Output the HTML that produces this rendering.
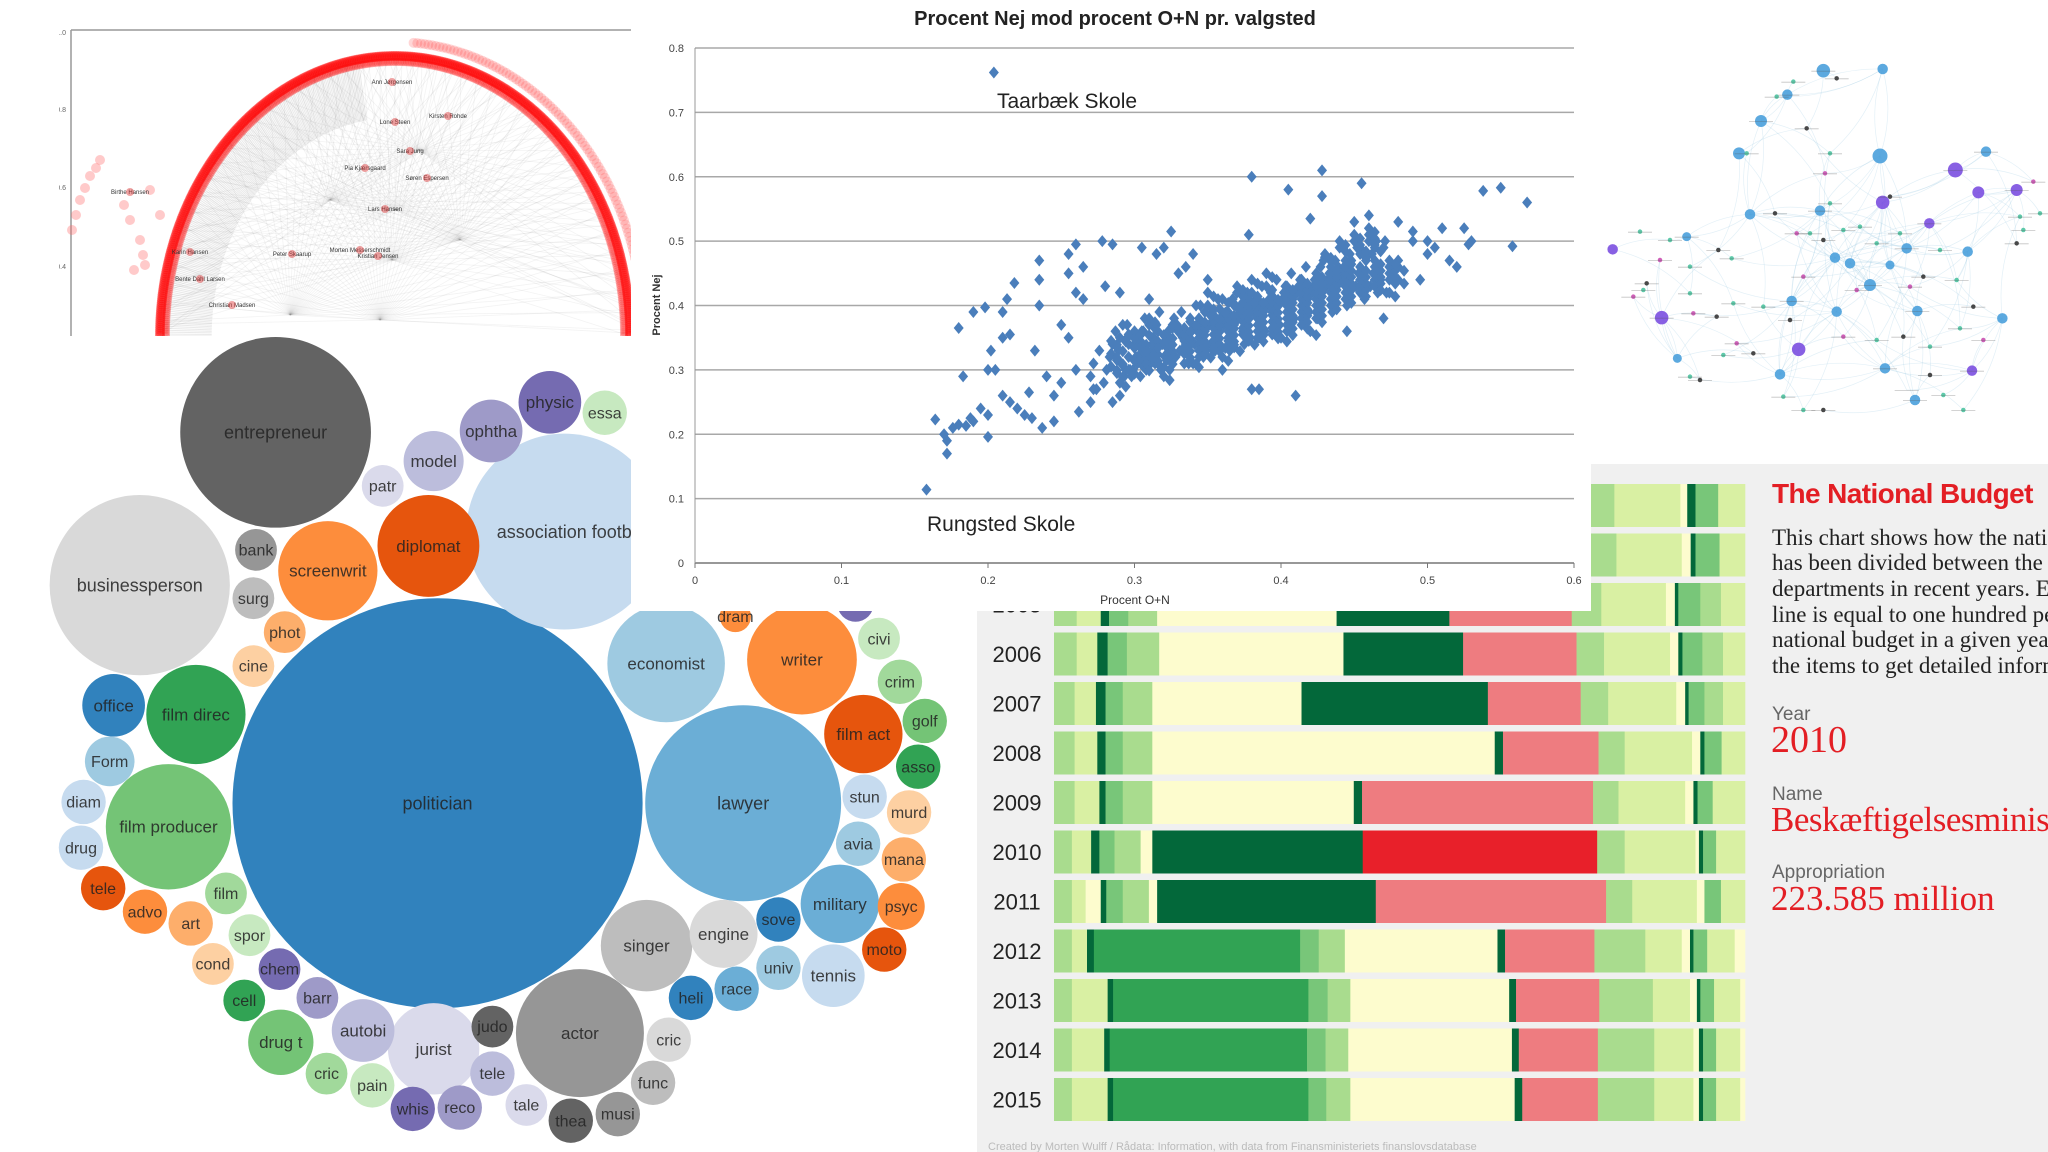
<!DOCTYPE html>
<html><head><meta charset="utf-8"><style>
html,body{margin:0;padding:0;background:#fff;width:2048px;height:1152px;overflow:hidden}
svg{display:block}
text{font-family:"Liberation Sans",sans-serif}
.serif{font-family:"Liberation Serif",serif}
</style></head><body>
<svg id="root" width="2048" height="1152" viewBox="0 0 2048 1152" xmlns="http://www.w3.org/2000/svg">
<defs>
<clipPath id="radClip"><rect x="59" y="20" width="572" height="316"/></clipPath>
<clipPath id="netClip"><rect x="1591" y="0" width="457" height="464"/></clipPath>
</defs>
<g id="bubbles"></g>
<g id="budget">
<rect x="977" y="611" width="1071" height="541" fill="#f0f0f0"/>
<rect x="1591" y="464" width="457" height="148" fill="#f0f0f0"/>
</g>
<g id="radial" clip-path="url(#radClip)">
<rect x="59" y="20" width="572" height="316" fill="#fff"/>
</g>
<g id="network" clip-path="url(#netClip)"></g>
<g id="scatter">
<rect x="631" y="0" width="960" height="611" fill="#fff"/>
</g>
<g id="budgetText">
<text x="1772" y="503" font-size="28" font-weight="bold" fill="#e31e24" letter-spacing="-0.6">The National Budget</text>
<g class="serif" font-size="23" fill="#222">
<text class="serif" x="1772" y="545">This chart shows how the national budget</text>
<text class="serif" x="1772" y="570">has been divided between the ministries</text>
<text class="serif" x="1772" y="596">departments in recent years. Each</text>
<text class="serif" x="1772" y="622">line is equal to one hundred percent</text>
<text class="serif" x="1772" y="647">national budget in a given year. Hover</text>
<text class="serif" x="1772" y="673">the items to get detailed information.</text>
</g>
<text x="1772" y="720" font-size="19" fill="#666">Year</text>
<text class="serif" x="1771" y="752" font-size="38" fill="#e31e24">2010</text>
<text x="1772" y="800" font-size="19" fill="#666">Name</text>
<text class="serif" x="1771" y="831" font-size="35" fill="#e31e24" letter-spacing="-0.5">Beskæftigelsesministeriet</text>
<text x="1772" y="878" font-size="19" fill="#666">Appropriation</text>
<text class="serif" x="1771" y="910" font-size="35" fill="#e31e24">223.585 million</text>
<text x="988" y="1150" font-size="11" fill="#bbb">Created by Morten Wulff / Rådata: Information, with data from Finansministeriets finanslovsdatabase</text>
</g>
</svg>
<script>
const NS='http://www.w3.org/2000/svg';
function mk(tag,attrs,parent){const e=document.createElementNS(NS,tag);for(const k in attrs)e.setAttribute(k,attrs[k]);parent.appendChild(e);return e;}

/* ================= BUBBLE CHART ================= */
const bubbleLabels=['politician','entrepreneur','businessperson','association footb','lawyer','economist','writer','diplomat','screenwrit','film direc','film producer','actor','singer','military','film act','jurist','model','ophtha','physic','essa','patr','bank','surg','phot','cine','office','Form','diam','drug','tele','advo','art','film','spor','cond','chem','cell','barr','drug t','autobi','cric','pain','whis','reco','judo','tele','tale','thea','musi','func','cric','engine','sove','univ','race','heli','tennis','moto','psyc','mana','avia','murd','stun','asso','golf','crim','civi','dram',''];
const bubbleCX=[335,211,107,432,569,510,614,328,251,150,129,444,495,643,661,332,332,376,421,463,293,196,194,218,194,87,84,64,62,79,111,146,173,191,163,214,187,243,215,278,250,285,316,352,377,377,403,437,473,500,512,554,596,596,564,529,638,677,690,692,657,696,662,703,708,689,673,563,655];
const bubbleCY=[615,331,448,407,615,508,505,418,437,547,633,791,724,692,562,803,353,330,308,316,372,421,458,484,510,540,583,614,649,680,698,707,684,716,738,742,766,764,798,789,822,831,849,848,786,822,846,858,853,829,796,715,704,741,757,764,747,727,694,658,646,622,610,587,552,522,489,472,462];
const bubbleR=[157,73,69,75,75,45,42,39,38,38,48,49,35,30,30,35,23,24,24,17,16,16,16,16,16,24,19,17,17,17,17,17,16,16,16,16,16,16,25,24,16,17,17,17,16,17,16,17,17,17,17,26,17,17,17,17,24,17,18,17,17,17,17,17,17,17,16,12,14];
const bubbleColor=['#3182bd','#636363','#d9d9d9','#c6dbef','#6baed6','#9ecae1','#fd8d3c','#e6550d','#fd8d3c','#31a354','#74c476','#969696','#bdbdbd','#6baed6','#e6550d','#dadaeb','#bcbddc','#9e9ac8','#756bb1','#c7e9c0','#dadaeb','#969696','#bdbdbd','#fdae6b','#fdd0a2','#3182bd','#9ecae1','#c6dbef','#c6dbef','#e6550d','#fd8d3c','#fdae6b','#a1d99b','#c7e9c0','#fdd0a2','#756bb1','#31a354','#9e9ac8','#74c476','#bcbddc','#a1d99b','#c7e9c0','#756bb1','#9e9ac8','#636363','#bcbddc','#dadaeb','#636363','#969696','#bdbdbd','#d9d9d9','#d9d9d9','#3182bd','#9ecae1','#6baed6','#3182bd','#c6dbef','#e6550d','#fd8d3c','#fdae6b','#9ecae1','#fdd0a2','#c6dbef','#31a354','#74c476','#a1d99b','#c7e9c0','#fd8d3c','#756bb1'];
const BS=2048/1568;
function bx(v){return v*BS;}
const bub=document.getElementById('bubbles');
bubbleLabels.forEach((lab,i)=>{
  const g=mk('g',{},bub);
  
  
  mk('circle',{cx:bx(bubbleCX[i]),cy:bx(bubbleCY[i]),r:bx(bubbleR[i]),fill:bubbleColor[i]},g);
  if(lab){const fs=bubbleR[i]>60?18:(bubbleR[i]>20?17:16);
  const t=mk('text',{x:bx(bubbleCX[i]),y:bx(bubbleCY[i])+fs*0.35,'text-anchor':'middle','font-size':fs,fill:'#222','fill-opacity':0.85},g);t.textContent=lab;}
});

/* ================= BUDGET BARS ================= */
const budgetYears=[2003,2004,2005,2006,2007,2008,2009,2010,2011,2012,2013,2014,2015];
const budgetBounds=[
[122,155,190,202,230,272,540,700,880,905,937,1033,1043,1055,1088,1127],
[122,155,190,202,230,272,535,700,878,905,940,1035,1048,1055,1090,1127],
[122,155,190,202,230,272,533,697,875,918,1012,1025,1030,1062,1092,1127],
[122,155,185,200,228,275,543,717,882,922,1018,1030,1036,1065,1095,1127],
[122,152,183,197,222,265,482,753,888,928,1027,1040,1045,1068,1095,1127],
[122,152,185,197,222,265,763,775,914,952,1050,1062,1068,1093,1127],
[122,152,188,197,222,265,558,570,906,943,1040,1052,1058,1080,1127],
[122,148,176,188,210,248,265,571,912,952,1055,1060,1066,1085,1127],
[122,148,168,190,198,222,260,272,590,925,963,1057,1068,1092,1127],
[122,148,170,180,480,507,545,767,778,908,982,1035,1047,1052,1072,1112,1127],
[122,148,200,208,492,520,553,784,794,915,993,1047,1057,1062,1082,1120,1127],
[122,148,195,203,490,517,550,788,798,913,995,1052,1060,1066,1085,1120,1127],
[122,148,200,208,492,518,553,792,803,913,995,1052,1060,1066,1085,1120,1127]];
const budgetKeys=[
'LPDMLCDSLLPCDMP','LPDMLCDSLLPCDMP','LPDMLCDSLPCDMLP','LPDMLCDSLPCDMLP','LPDMLCDSLPCDMLP',
'LPDMLCDSLPCDMP','LPDMLCDSLPCDMP','LPDMLCDRLPCDMP','LPCDMLCDSLPCMP',
'LPDGMLCDSLPCDMPC','LPDGMLCDSLPCDMPC','LPDGMLCDSLPCDMPC','LPDGMLCDSLPCDMPC'];
const colorMap={L:'#a9dc8e',P:'#d9f0a3',D:'#03683a',M:'#78c679',C:'#fdfcce',G:'#31a354',S:'#ee7c80',R:'#e8202a'};
function xB(u){return 1054+(u-122)/1005*691;}
function yB(yr){return 654+(yr-2006)*49.5;}
const bud=document.getElementById('budget');
budgetYears.forEach((yr,i)=>{
  const g=mk('g',{},bud);
  
  
  const b=budgetBounds[i],k=budgetKeys[i];
  for(let j=0;j<b.length-1;j++){
    const r=mk('rect',{x:xB(b[j]),y:yB(yr)-21.5,width:xB(b[j+1])-xB(b[j])+0.3,height:43,fill:colorMap[k[j]]},g);
    
    
  }
  const t=mk('text',{x:1017,y:yB(yr)+8,'text-anchor':'middle','font-size':22,fill:'#222'},g);
  
  
  t.textContent=yr;
});

/* ================= RADIAL ================= */
const rad=document.getElementById('radial');
const radTicks=['1.0','0.8','0.6','0.4'];
const radTickY=[32,109,187,266];
mk('line',{x1:71,y1:30,x2:71,y2:336,stroke:'#999','stroke-width':1.5},rad);
mk('line',{x1:71,y1:30,x2:631,y2:30,stroke:'#999','stroke-width':1.5},rad);
radTicks.forEach((t,i)=>{const e=mk('text',{x:66,y:radTickY[i]+3,'text-anchor':'end','font-size':7,fill:'#666'},rad);e.textContent=t;});
const ecx=395,ecy=336,erx=235,ery=280;
const hubs=[[392,260],[290,315],[380,320],[395,210],[460,240],[330,200],[420,150]];
for(let i=0;i<=300;i++){
  const t=i/300*Math.PI;
  const px=ecx+erx*Math.cos(t),py=ecy-ery*Math.sin(t);
  const h=hubs[i%hubs.length];
  mk('line',{x1:h[0],y1:h[1],x2:px,y2:py,stroke:'#888','stroke-opacity':0.1,'stroke-width':0.8},rad);
}
for(let i=0;i<=200;i++){const t=(0.55+i/200*0.45)*Math.PI;
  mk('line',{x1:ecx+erx*0.78*Math.cos(t),y1:ecy-ery*0.78*Math.sin(t),x2:ecx+erx*Math.cos(t),y2:ecy-ery*Math.sin(t),stroke:'#666','stroke-opacity':0.14},rad);}
for(let i=0;i<=420;i++){const t=i/420*Math.PI;
  mk('circle',{cx:ecx+erx*Math.cos(t),cy:ecy-ery*Math.sin(t),r:5,fill:'#f00','fill-opacity':0.35},rad);
  mk('circle',{cx:ecx+(erx-6)*Math.cos(t),cy:ecy-(ery-6)*Math.sin(t),r:4,fill:'#f00','fill-opacity':0.2},rad);
  if(t<1.5&&i%2===0) mk('circle',{cx:ecx+(erx+14)*Math.cos(t),cy:ecy-(ery+14)*Math.sin(t),r:5,fill:'#f44','fill-opacity':0.22},rad);}
const pinkX=[72,76,80,85,90,96,100,124,130,140,143,145,134,150,160];
const pinkY=[230,215,200,188,176,168,160,205,220,240,255,265,270,190,215];
pinkX.forEach((x,i)=>mk('circle',{cx:x,cy:pinkY[i],r:5,fill:'#f66','fill-opacity':0.35},rad));
const radNames=['Ann Jørgensen','Lone Steen','Kirsten Rohde','Sara Jung','Pia Kjærsgaard','Søren Espersen','Lars Hansen','Morten Messerschmidt','Karin Hansen','Peter Skaarup','Kristian Jensen','Birthe Hansen','Bente Dahl Larsen','Christian Madsen'];
const radNX=[392,395,448,410,365,427,385,360,190,292,378,130,200,232];
const radNY=[84,124,118,153,170,180,211,252,254,256,258,194,281,307];
radNames.forEach((n,i)=>{const e=mk('text',{x:radNX[i],y:radNY[i],'text-anchor':'middle','font-size':6,fill:'#333'},rad);e.textContent=n;
 mk('circle',{cx:radNX[i],cy:radNY[i]-2,r:4,fill:'#d33','fill-opacity':0.45},rad);});

/* ================= NETWORK ================= */
const net=document.getElementById('network');
const nodeX=[700,870,513,447,592,878,1188,480,690,780,840,740,982,1133,950,900,885,570,975,1237,290,262,605,735,1096,1165,1280,878,1018,68,215,626,1146,
 740,720,705,650,560,610,555,620,470,385,425,300,210,240,150,170,300,310,380,430,520,600,640,660,700,720,760,800,810,860,900,930,960,1000,1050,1100,1150,1180,1120,1280,1300,1290,1330,1060,1020,940,860,760,700,640,580,490,440,400,330,300,160,130,1350,1110,1020,950];
const nodeY=[212,468,363,460,284,207,455,643,632,790,855,935,933,755,745,795,1105,1123,1200,955,710,1075,903,773,510,577,570,607,670,748,953,1048,1112,
 235,460,520,385,290,245,640,700,460,750,775,800,780,720,695,850,880,940,950,910,920,960,830,700,720,610,690,870,680,730,590,700,860,830,750,840,920,1020,1230,730,690,650,545,1185,1040,1010,1020,1010,1230,1230,1190,1060,1030,1065,1140,1130,870,890,640,985,1125,1170];
const nodeSize=[9,10,8,8,7,7,7,7,7,7,8,7,7,7,7,6,7,7,7,7,6,6,7,7,10,8,8,9,7,7,9,9,7,
 3,3,3,3,3,3,3,3,3,3,3,3,3,3,3,3,3,3,3,3,3,3,3,3,3,3,3,3,3,3,3,3,3,3,3,3,3,3,3,3,3,3,3,3,3,3,3,3,3,3,3,3,3,3,3,3,3,3,3,3,3];
function nX(v){return 1590+v/3;}
function nY(v){return v/3;}
for(let i=0;i<nodeX.length;i++){for(let j=0;j<33;j++){
  if(i===j) continue;
  const dx=nodeX[i]-nodeX[j],dy=nodeY[i]-nodeY[j];
  if(Math.hypot(dx,dy)<330 && (i+j)%3===0){
    mk('path',{d:`M${nX(nodeX[i])},${nY(nodeY[i])} Q${nX((nodeX[i]+nodeX[j])/2+dy*0.15)},${nY((nodeY[i]+nodeY[j])/2-dx*0.15)} ${nX(nodeX[j])},${nY(nodeY[j])}`,fill:'none',stroke:'#8fc3e0','stroke-opacity':0.25,'stroke-width':0.7},net);
  }}}
nodeX.forEach((x,i)=>{
  const big=i<33;
  const col= big ? ([24,25,26,27,28,29,30,31,32].includes(i)?'#7b4fe0':'#4aa0dc') : (i%5===0?'#c94fb0':(i%3===0?'#333':'#4cc3a0'));
  const c=mk('circle',{cx:nX(x),cy:nY(nodeY[i]),r:nodeSize[i]*0.75,fill:col,'fill-opacity':0.9},net);
  
  
  if(!big||i%2===0){mk('line',{x1:nX(x)-12,y1:nY(nodeY[i])+0.5,x2:nX(x)+12,y2:nY(nodeY[i])+0.5,stroke:'#555','stroke-opacity':0.35,'stroke-width':0.8},net);}
});

/* ================= SCATTER ================= */
const sc=document.getElementById('scatter');
const xTicks=[0,0.1,0.2,0.3,0.4,0.5,0.6];
const yTicks=[0,0.1,0.2,0.3,0.4,0.5,0.6,0.7,0.8];
const stationON=[0.204,0.158,0.172,0.164,0.17,0.172,0.176,0.18,0.185,0.188,0.2,0.2,0.19,0.195,0.183,0.18,0.19,0.198,0.202,0.2,0.205,0.21,0.213,0.218,0.21,0.215,0.21,0.215,0.22,0.225,0.23,0.228,0.232,0.235,0.235,0.235,0.237,0.245,0.245,0.24,0.25,0.255,0.25,0.255,0.255,0.26,0.26,0.265,0.265,0.26,0.262,0.27,0.272,0.278,0.28,0.285,0.285,0.29,0.29,0.295,0.3,0.305,0.31,0.315,0.32,0.325,0.33,0.335,0.34,0.345,0.35,0.36,0.38,0.378,0.38,0.385,0.405,0.41,0.42,0.428,0.428,0.455,0.445,0.46,0.45,0.47,0.48,0.49,0.495,0.5,0.505,0.51,0.515,0.52,0.525,0.53,0.528,0.538,0.55,0.558,0.568,0.5,0.49,0.48,0.47,0.465,
0.27,0.272,0.274,0.276,0.281,0.283,0.279,0.285,0.287,0.291,0.293,0.289,0.295,0.297,0.292,0.299,0.301,0.303,0.305,0.302,0.307,0.298,0.311,0.309,0.313,0.315,0.31,0.308,0.317,0.321,0.319,0.323,0.325,0.318,0.327,0.322,0.331,0.333,0.329,0.335,0.337,0.332,0.339,0.328,0.341,0.343,0.338,0.345,0.347,0.342,0.349,0.336,0.351,0.353,0.348,0.355,0.357,0.352,0.359,0.346,0.361,0.363,0.358,0.365,0.367,0.362,0.369,0.356,0.371,0.373,0.368,0.375,0.377,0.372,0.379,0.366,0.381,0.383,0.378,0.385,0.387,0.382,0.389,0.376,0.391,0.393,0.388,0.395,0.397,0.392,0.399,0.386,0.401,0.403,0.398,0.405,0.407,0.402,0.409,0.396,0.411,0.413,0.408,0.415,0.417,0.412,0.419,0.406,0.421,0.423,0.418,0.425,0.427,0.422,0.429,0.416,0.431,0.433,0.428,0.435,0.437,0.432,0.439,0.426,0.441,0.443,0.438,0.445,0.447,0.442,0.451,0.453,0.448,0.455,0.457,0.452,0.461,0.463,0.458,0.466,0.471,0.468,0.474,0.472,0.462,0.444,0.436,0.424,0.414,0.404,0.394,0.384,0.374,0.364,0.354,0.344,0.334,0.324,0.314,0.304,0.294,0.284];
const stationNej=[0.762,0.114,0.17,0.223,0.2,0.19,0.21,0.215,0.213,0.225,0.196,0.23,0.22,0.24,0.29,0.365,0.39,0.397,0.33,0.3,0.3,0.39,0.41,0.435,0.35,0.355,0.26,0.25,0.24,0.23,0.225,0.265,0.33,0.4,0.44,0.47,0.21,0.22,0.26,0.29,0.28,0.35,0.37,0.45,0.48,0.495,0.42,0.46,0.41,0.3,0.235,0.25,0.27,0.5,0.43,0.495,0.25,0.26,0.42,0.37,0.34,0.49,0.41,0.48,0.49,0.515,0.45,0.46,0.48,0.4,0.44,0.3,0.6,0.51,0.27,0.27,0.58,0.26,0.535,0.61,0.57,0.59,0.36,0.54,0.53,0.38,0.53,0.515,0.44,0.5,0.49,0.52,0.47,0.46,0.52,0.5,0.495,0.578,0.583,0.492,0.56,0.48,0.5,0.47,0.49,0.5,
0.29,0.31,0.27,0.33,0.3,0.32,0.28,0.34,0.36,0.31,0.29,0.33,0.35,0.3,0.37,0.3,0.32,0.34,0.36,0.31,0.38,0.29,0.31,0.33,0.35,0.37,0.32,0.3,0.39,0.32,0.34,0.36,0.33,0.3,0.38,0.35,0.33,0.35,0.37,0.34,0.31,0.39,0.36,0.32,0.34,0.36,0.38,0.35,0.32,0.4,0.33,0.35,0.37,0.39,0.36,0.33,0.41,0.34,0.38,0.35,0.37,0.39,0.36,0.33,0.41,0.38,0.4,0.36,0.38,0.4,0.37,0.34,0.42,0.39,0.35,0.37,0.39,0.41,0.38,0.35,0.43,0.4,0.36,0.38,0.4,0.42,0.39,0.36,0.44,0.41,0.37,0.39,0.41,0.43,0.4,0.37,0.45,0.42,0.38,0.4,0.42,0.44,0.41,0.38,0.46,0.43,0.39,0.4,0.42,0.44,0.41,0.38,0.46,0.43,0.47,0.41,0.43,0.45,0.42,0.39,0.47,0.44,0.46,0.42,0.44,0.46,0.43,0.4,0.48,0.45,0.43,0.45,0.47,0.44,0.41,0.49,0.43,0.45,0.47,0.42,0.5,0.44,0.46,0.42,0.48,0.43,0.4,0.41,0.44,0.4,0.39,0.38,0.36,0.35,0.33,0.32,0.31,0.3,0.31,0.29,0.3];
const coreON=[0.284,0.284,0.284,0.288,0.288,0.288,0.296,0.296,0.296,0.296,0.304,0.304,0.304,0.304,0.306,0.306,0.312,0.312,0.312,0.312,0.316,0.316,0.322,0.322,0.322,0.322,0.322,0.326,0.326,0.334,0.334,0.334,0.334,0.334,0.338,0.338,0.344,0.344,0.344,0.344,0.344,0.344,0.348,0.348,0.354,0.354,0.354,0.354,0.354,0.354,0.358,0.358,0.364,0.364,0.364,0.364,0.364,0.364,0.368,0.368,0.374,0.374,0.374,0.374,0.374,0.374,0.378,0.378,0.384,0.384,0.384,0.384,0.384,0.384,0.384,0.394,0.394,0.394,0.394,0.394,0.394,0.394,0.404,0.404,0.404,0.404,0.404,0.404,0.404,0.404,0.414,0.414,0.414,0.414,0.414,0.414,0.414,0.414,0.424,0.424,0.424,0.424,0.424,0.424,0.424,0.424,0.434,0.434,0.434,0.434,0.434,0.434,0.434,0.444,0.444,0.444,0.444,0.444,0.444,0.444,0.454,0.454,0.454,0.454,0.454,0.454,0.454,0.464,0.464,0.464,0.464,0.464,0.464,0.474,0.474,0.474,0.474,0.474,0.46,0.46,0.46,0.45,0.45,0.44,0.44,0.48,0.48,0.43,0.43,0.39,0.39,0.38,0.38,0.37,0.37,0.36,0.35,0.35,0.31,0.31,0.3,0.29,0.29,0.32,0.34,0.36,0.4,0.42];
const coreNej=[0.305,0.325,0.345,0.315,0.335,0.295,0.32,0.34,0.3,0.355,0.325,0.345,0.315,0.335,0.305,0.36,0.33,0.35,0.34,0.32,0.36,0.31,0.335,0.355,0.345,0.325,0.315,0.365,0.37,0.345,0.355,0.365,0.325,0.335,0.375,0.315,0.35,0.36,0.37,0.34,0.33,0.38,0.39,0.325,0.355,0.365,0.375,0.345,0.385,0.335,0.395,0.34,0.36,0.37,0.38,0.35,0.39,0.345,0.4,0.335,0.365,0.375,0.385,0.355,0.395,0.405,0.345,0.41,0.37,0.38,0.39,0.36,0.4,0.41,0.35,0.375,0.385,0.395,0.405,0.365,0.415,0.355,0.38,0.39,0.4,0.41,0.42,0.37,0.36,0.43,0.39,0.4,0.41,0.42,0.43,0.38,0.37,0.44,0.4,0.41,0.42,0.43,0.44,0.39,0.45,0.38,0.41,0.42,0.43,0.44,0.45,0.4,0.46,0.42,0.43,0.44,0.45,0.46,0.41,0.47,0.43,0.44,0.45,0.46,0.42,0.48,0.49,0.44,0.45,0.46,0.47,0.43,0.49,0.45,0.46,0.44,0.47,0.42,0.51,0.52,0.5,0.5,0.51,0.49,0.5,0.44,0.46,0.475,0.48,0.43,0.45,0.44,0.42,0.42,0.43,0.41,0.4,0.42,0.37,0.38,0.36,0.35,0.28,0.29,0.31,0.32,0.35,0.36];
const scatterNotes=['Taarbæk Skole','Rungsted Skole'];
function xS(v){return 695+v/0.6*879;}
function yS(v){return 563-v/0.8*515;}
const tt=mk('text',{x:1115,y:25,'text-anchor':'middle','font-size':20,'font-weight':'bold',fill:'#222'},sc);

tt.textContent='Procent Nej mod procent O+N pr. valgsted';
yTicks.forEach(v=>{
  if(v>0){const l=mk('line',{x1:xS(0),y1:yS(v),x2:xS(0.6),y2:yS(v),stroke:'#a8a8a8','stroke-width':1.5},sc);
  }
  const t=mk('text',{x:684,y:yS(v)+4,'text-anchor':'end','font-size':11,fill:'#444'},sc);
  t.textContent=v;
});
const ax=mk('line',{x1:xS(0),y1:yS(0),x2:xS(0.6),y2:yS(0),stroke:'#777','stroke-width':1.5},sc);

const ay=mk('line',{x1:xS(0),y1:yS(0.8),x2:xS(0),y2:yS(0),stroke:'#999','stroke-width':1},sc);

xTicks.forEach(v=>{
  mk('line',{x1:xS(v),y1:yS(0),x2:xS(v),y2:yS(0)+5,stroke:'#777'},sc);
  const t=mk('text',{x:xS(v),y:584,'text-anchor':'middle','font-size':11,fill:'#444'},sc);
  t.textContent=v;
});
const xt=mk('text',{x:1135,y:604,'text-anchor':'middle','font-size':12,fill:'#333'},sc);
xt.textContent='Procent O+N';
const yt=mk('text',{x:660,y:305,'text-anchor':'middle','font-size':11,'font-weight':'bold',fill:'#333',transform:'rotate(-90 660 305)'},sc);
yt.textContent='Procent Nej';
function drawPoint(x,y){
  const px=xS(x),py=yS(y);
  const p=mk('path',{d:`M${px},${py-6} L${px+5},${py} L${px},${py+6} L${px-5},${py} Z`,fill:'#4a7ebb'},sc);
  
  
}
stationON.forEach((x,i)=>drawPoint(x,stationNej[i]));
coreON.forEach((x,i)=>drawPoint(x,coreNej[i]));
coreON.forEach((x,i)=>drawPoint(x+0.004,coreNej[i]-0.006));
const n1=mk('text',{x:997,y:108,'font-size':21,fill:'#222'},sc);
n1.textContent=scatterNotes[0];
const n2=mk('text',{x:927,y:531,'font-size':21,fill:'#222'},sc);
n2.textContent=scatterNotes[1];
</script>
</body></html>
